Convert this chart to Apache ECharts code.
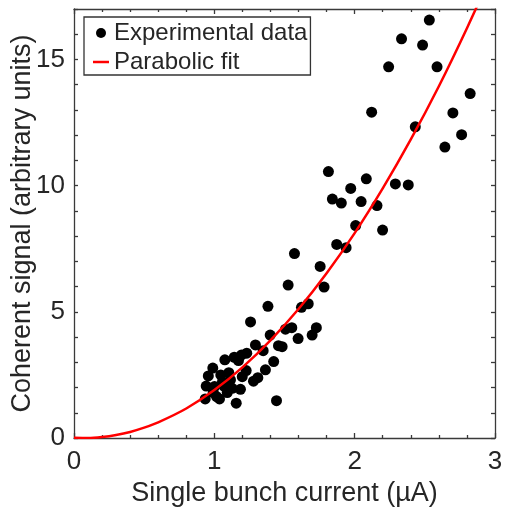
<!DOCTYPE html>
<html>
<head>
<meta charset="utf-8">
<script src="https://cdn.jsdelivr.net/npm/echarts@6/dist/echarts.min.js"></script>
<style>html,body{margin:0;padding:0;background:#fff}#c{width:505px;height:508px}</style>
</head>
<body>
<div id="c"></div>
<script>
// Experimental data (x: single bunch current in µA, y: coherent signal)
const expX = [2.532,2.334,2.484,2.242,2.587,2.823,2.121,2.700,2.432,2.762,2.643,1.813,2.083,2.290,2.382,1.972,1.841,1.905,2.046,2.159,2.007,2.199,1.872,1.939,1.571,1.754,1.526,1.782,1.382,1.621,1.669,1.258,1.727,1.507,1.552,1.398,1.597,1.697,1.293,1.457,1.483,1.348,1.142,1.231,1.194,1.075,1.172,1.423,0.989,1.364,1.227,0.957,1.046,1.103,1.199,1.310,1.279,1.115,1.058,0.942,1.001,1.068,1.127,1.186,0.992,1.092,1.016,1.037,0.935,1.156,1.443];
const expY = [16.56,15.82,15.57,14.71,14.71,13.65,12.91,12.88,12.33,12.02,11.53,10.56,10.27,10.07,10.03,9.89,9.47,9.31,9.37,9.21,8.42,8.24,7.67,7.54,7.31,6.80,6.06,5.98,5.22,5.18,5.32,4.60,4.37,4.31,4.37,4.08,3.94,4.08,3.69,3.66,3.62,3.46,3.20,3.36,3.29,3.10,3.07,3.03,2.77,2.70,2.67,2.46,2.50,2.59,2.43,2.39,2.25,2.30,2.23,2.06,2.04,2.06,1.97,1.93,1.80,1.80,1.64,1.55,1.55,1.38,1.48];
// Parabolic fit curve
const fitX = [0, 0.1, 0.2, 0.3, 0.4, 0.5, 0.6, 0.8, 1.0, 1.2, 1.4, 1.6, 1.8, 2.0, 2.2, 2.4, 2.6, 2.8, 3.0];
const fitY = [0.01, 0.00, 0.04, 0.12, 0.24, 0.41, 0.62, 1.17, 1.90, 2.80, 3.87, 5.11, 6.53, 8.12, 9.89, 11.83, 13.94, 16.24, 18.69];
const xTicks = [0, 1, 2, 3];
const yTicks = [0, 5, 10, 15];

const FONT = 'Liberation Sans';
const TXT = '#262626';
const AX = '#3a3a3a';

const expData = expX.map((x, i) => [x, expY[i]]);
const fitData = fitX.map((x, i) => [x, fitY[i]]);

const chart = echarts.init(document.getElementById('c'), null, {renderer: 'canvas'});
const isTick = (v, arr) => arr.some(t => Math.abs(t - v) < 1e-6);

const baseX = {
  type: 'value', min: 0, max: 3, interval: 1,
  axisLine: {show: true, onZero: false, lineStyle: {color: AX, width: 1.3}},
  axisTick: {show: true, inside: true, length: 5, lineStyle: {color: AX, width: 1.3}},
  minorTick: {show: true, splitNumber: 5, length: 3, lineStyle: {color: AX, width: 1.3}},
  splitLine: {show: false}, minorSplitLine: {show: false}
};
const baseY = {
  type: 'value', min: 0, max: 17, interval: 1,
  axisLine: {show: true, onZero: false, lineStyle: {color: AX, width: 1.3}},
  axisTick: {show: true, inside: true, length: 4, lineStyle: {color: AX, width: 1.3}},
  splitLine: {show: false}
};

chart.setOption({
  animation: false,
  backgroundColor: '#fff',
  grid: {left: 74, right: 10, top: 9, bottom: 70, containLabel: false, outerBoundsMode: 'none'},
  textStyle: {fontFamily: FONT},
  legend: {
    orient: 'vertical', left: 84, top: 17,
    borderColor: '#333', borderWidth: 1.3,
    padding: [4, 3, 1, 9], itemGap: 5, itemWidth: 16, itemHeight: 10, itemTextGap: 4,
    textStyle: {fontFamily: FONT, fontSize: 24, color: TXT},
    data: [
      {name: 'Experimental data', icon: 'circle'},
      {name: 'Parabolic fit', icon: 'path://M0 0H16V2.5H0Z'}
    ]
  },
  xAxis: [
    Object.assign({}, baseX, {
      position: 'bottom',
      name: 'Single bunch current (µA)', nameLocation: 'middle', nameGap: 42,
      nameMoveOverlap: false,
      nameTextStyle: {fontFamily: FONT, fontSize: 27, color: TXT},
      axisLabel: {show: true, margin: 11, fontFamily: FONT, fontSize: 26, color: TXT,
        formatter: v => isTick(v, xTicks) ? String(Math.round(v)) : ''}
    }),
    Object.assign({}, baseX, {position: 'top', axisLabel: {show: false}})
  ],
  yAxis: [
    Object.assign({}, baseY, {
      position: 'left',
      name: 'Coherent signal (arbitrary units)', nameLocation: 'middle', nameGap: 38,
      nameMoveOverlap: false,
      nameTextStyle: {fontFamily: FONT, fontSize: 27, color: TXT},
      axisLabel: {show: true, margin: 9, fontFamily: FONT, fontSize: 26, color: TXT,
        formatter: v => isTick(v, yTicks) ? String(Math.round(v)) : ''}
    }),
    Object.assign({}, baseY, {position: 'right', axisLabel: {show: false}})
  ],
  series: [
    {
      name: 'Experimental data', type: 'scatter', xAxisIndex: 0, yAxisIndex: 0,
      symbol: 'circle', symbolSize: 11,
      itemStyle: {color: '#000', opacity: 1},
      data: expData, z: 3
    },
    {
      name: 'Parabolic fit', type: 'line', xAxisIndex: 0, yAxisIndex: 0,
      smooth: 0.3, showSymbol: false, symbol: 'none', clip: true,
      lineStyle: {color: '#ff0000', width: 2.5},
      itemStyle: {color: '#ff0000'},
      data: fitData, z: 4
    }
  ]
});
</script>
</body>
</html>
